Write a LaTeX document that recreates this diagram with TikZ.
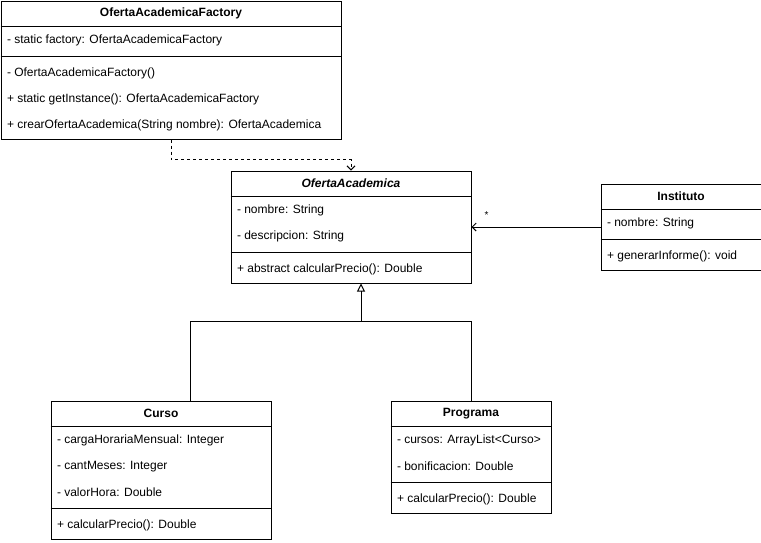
\documentclass[tikz,border=0pt]{standalone}
\usepackage{fontspec}
\setmainfont{Liberation Sans}
\usetikzlibrary{calc,arrows.meta}
\begin{document}
\begin{tikzpicture}[x=1pt,y=-1pt,
  font=\fontsize{12}{14}\selectfont,
  line width=1pt,
  umlbox/.style={draw=black,fill=white,rectangle,inner sep=0pt,anchor=north west},
  title/.style={font=\fontsize{12}{14}\selectfont\bfseries,inner sep=0pt,anchor=center},
  member/.style={inner sep=0pt,anchor=west},
  assoc/.style={-{Straight Barb[length=4pt,width=8pt,line width=1pt]}},
  depend/.style={dashed,dash pattern=on 3pt off 3pt,-{Straight Barb[length=4pt,width=8pt,line width=1pt]}},
  inherit/.style={-{Triangle[open,length=8pt,width=8pt,line width=1pt]}}
]
\useasboundingbox (0,0) rectangle (761,542);

% OfertaAcademicaFactory
\node[umlbox,minimum width=340pt,minimum height=138pt] (factory) at (0.5,0.5) {};
\node[title] (f-t) at ($(factory.north)+(0,13)$) {OfertaAcademicaFactory};
\draw ($(factory.north west)+(0,26)$) -- ($(factory.north east)+(0,26)$);
\node[member] (f-a1) at ($(factory.north west)+(6,40)$) {- static factory: OfertaAcademicaFactory};
\draw ($(factory.north west)+(0,56)$) -- ($(factory.north east)+(0,56)$);
\node[member] (f-m1) at ($(factory.north west)+(6,73)$) {- OfertaAcademicaFactory()};
\node[member] (f-m2) at ($(factory.north west)+(6,99)$) {+ static getInstance(): OfertaAcademicaFactory};
\node[member] (f-m3) at ($(factory.north west)+(6,125)$) {+ crearOfertaAcademica(String nombre): OfertaAcademica};

% OfertaAcademica (abstract)
\node[umlbox,minimum width=240pt,minimum height=112pt] (ofa) at (230.5,170.5) {};
\node[title,font=\fontsize{12}{14}\selectfont\bfseries\itshape] (o-t) at ($(ofa.north)+(0,13)$) {OfertaAcademica};
\draw ($(ofa.north west)+(0,26)$) -- ($(ofa.north east)+(0,26)$);
\node[member] (o-a1) at ($(ofa.north west)+(6,40)$) {- nombre: String};
\node[member] (o-a2) at ($(ofa.north west)+(6,66)$) {- descripcion: String};
\draw ($(ofa.north west)+(0,82)$) -- ($(ofa.north east)+(0,82)$);
\node[member] (o-m1) at ($(ofa.north west)+(6,99)$) {+ abstract calcularPrecio(): Double};

% Instituto
\node[umlbox,minimum width=160pt,minimum height=86pt] (inst) at (600.5,183.5) {};
\node[title] (i-t) at ($(inst.north)+(0,13)$) {Instituto};
\draw ($(inst.north west)+(0,26)$) -- ($(inst.north east)+(0,26)$);
\node[member] (i-a1) at ($(inst.north west)+(6,40)$) {- nombre: String};
\draw ($(inst.north west)+(0,56)$) -- ($(inst.north east)+(0,56)$);
\node[member] (i-m1) at ($(inst.north west)+(6,73)$) {+ generarInforme(): void};

% Curso
\node[umlbox,minimum width=220pt,minimum height=138pt] (curso) at (50.5,400.5) {};
\node[title] (c-t) at ($(curso.north)+(0,13)$) {Curso};
\draw ($(curso.north west)+(0,26)$) -- ($(curso.north east)+(0,26)$);
\node[member] (c-a1) at ($(curso.north west)+(6,40)$) {- cargaHorariaMensual: Integer};
\node[member] (c-a2) at ($(curso.north west)+(6,66)$) {- cantMeses: Integer};
\node[member] (c-a3) at ($(curso.north west)+(6,92)$) {- valorHora: Double};
\draw ($(curso.north west)+(0,108)$) -- ($(curso.north east)+(0,108)$);
\node[member] (c-m1) at ($(curso.north west)+(6,125)$) {+ calcularPrecio(): Double};

% Programa
\node[umlbox,minimum width=160pt,minimum height=112pt] (prog) at (390.5,400.5) {};
\node[title] (p-t) at ($(prog.north)+(0,13)$) {Programa};
\draw ($(prog.north west)+(0,26)$) -- ($(prog.north east)+(0,26)$);
\node[member] (p-a1) at ($(prog.north west)+(6,40)$) {- cursos: ArrayList<Curso>};
\node[member] (p-a2) at ($(prog.north west)+(6,66)$) {- bonificacion: Double};
\draw ($(prog.north west)+(0,82)$) -- ($(prog.north east)+(0,82)$);
\node[member] (p-m1) at ($(prog.north west)+(6,99)$) {+ calcularPrecio(): Double};

% Connectors
\draw[depend] (factory.south) -- ++(0,20) -| (ofa.north);
\draw[assoc] (inst.west) -- (ofa.east) node[pos=1,inner sep=0pt,anchor=center,xshift=15pt,yshift=12pt,font=\fontsize{10}{12}\selectfont] (mult) {*};
\coordinate (junction) at ($(ofa.south)+(10,38)$);
\draw ($(curso.north west)+(140,0)$) |- (junction);
\draw (prog.north) |- (junction);
\draw[inherit] (junction) -- (junction |- ofa.south);
\end{tikzpicture}
\end{document}
